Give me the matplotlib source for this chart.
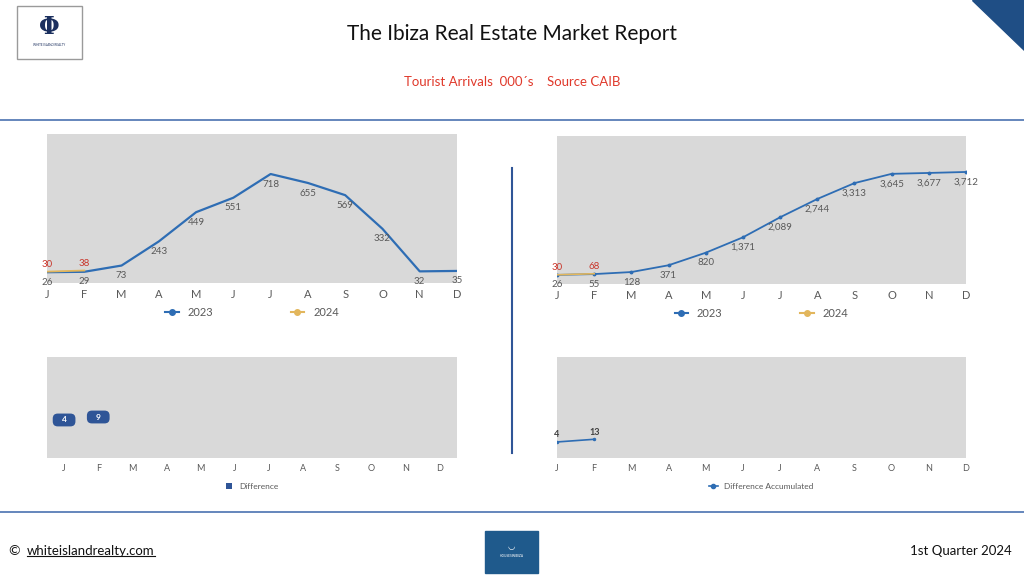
import numpy as np
import matplotlib.pyplot as plt
from matplotlib.patches import Rectangle, Polygon
from matplotlib.lines import Line2D

plt.rcParams['font.family'] = ['Lato', 'DejaVu Sans']

# data (thousands of tourist arrivals, source CAIB)
months = ['J', 'F', 'M', 'A', 'M', 'J', 'J', 'A', 'S', 'O', 'N', 'D']
arrivals_2023 = [26, 29, 73, 243, 449, 551, 718, 655, 569, 332, 32, 35]
arrivals_2024 = [30, 38]
cumul_2023 = [26, 55, 128, 371, 820, 1371, 2089, 2744, 3313, 3645, 3677, 3712]
cumul_2024 = [30, 68]
difference = [4, 9]
diff_accum = [4, 13]

W, H = 1024, 576
BG_GRAY = '#d9d9d9'
BLUE = '#2e6db4'
DARKBLUE = '#2f5597'
GOLD = '#e2b65c'
RED = '#c9372c'
TXT = '#595959'

fig = plt.figure(figsize=(W / 100, H / 100), dpi=100)


def px_axes(x0, y0, x1, y1):
    return fig.add_axes([x0 / W, 1 - y1 / H, (x1 - x0) / W, (y1 - y0) / H])


def style(ax, size):
    ax.set_facecolor(BG_GRAY)
    for s in ax.spines.values():
        s.set_visible(False)
    ax.set_yticks([])
    ax.tick_params(axis='x', length=0, colors=TXT, labelsize=size, pad=4)


# page decoration layer
bg = px_axes(0, 0, W, H)
bg.set_xlim(0, W)
bg.set_ylim(H, 0)
bg.axis('off')
bg.add_patch(Rectangle((17, 6), 65, 53, fill=False, ec='#9a9a9a', lw=1))
bg.text(49.5, 27, 'Φ', color='#1b2f5e', fontsize=17, ha='center', va='center',
        family='DejaVu Serif', fontweight='bold')
bg.text(49.5, 45, 'WHITE ISLAND REALTY', color='#1b2f5e', fontsize=2.2,
        ha='center', va='center')
bg.add_patch(Polygon([(972, 0), (1024, 0), (1024, 50)], color='#1f4e85'))
bg.text(512, 34, 'The Ibiza Real Estate Market Report', fontsize=15,
        ha='center', va='center', color='#111111')
bg.text(512, 82, 'Tourist Arrivals  000´s    Source CAIB', fontsize=9.5,
        ha='center', va='center', color='#e0392b')
bg.plot([0, W], [120, 120], color='#4a72b0', lw=1.2)
bg.plot([512, 512], [168, 453], color=DARKBLUE, lw=1.5)
bg.plot([0, W], [512, 512], color='#4a72b0', lw=1.2)
bg.text(8, 551, '©', fontsize=10, va='center', color='#111111')
url = bg.text(27, 551, 'whiteislandrealty.com', fontsize=9.5, va='center',
              color='#111111')
bg.text(1012, 551, '1st Quarter 2024', fontsize=9.5, va='center', ha='right',
        color='#111111')
bg.add_patch(Rectangle((485, 531), 53, 42, color='#1f5a8c'))
bg.text(511.5, 547, '◡', fontsize=6, ha='center', va='center', color='white')
bg.text(511.5, 556, 'HOUSESINIBIZA', fontsize=2.3, ha='center', va='center',
        color='white')

x = np.arange(len(months))

# chart 1: monthly arrivals
ax1 = px_axes(47, 134, 457, 283)
style(ax1, 8)
ax1.plot(x, arrivals_2023, color=BLUE, lw=1.6)
x24 = np.arange(len(arrivals_2024))
ax1.plot(x24, arrivals_2024, color=GOLD, lw=1.3)
for i, v in enumerate(arrivals_2023):
    ax1.annotate(str(v), (i, v), xytext=(0, -4), textcoords='offset points',
                 ha='center', va='top', fontsize=7, color=TXT,
                 annotation_clip=False)
for i, v in enumerate(arrivals_2024):
    ax1.annotate(str(v), (i, v), xytext=(0, 2), textcoords='offset points',
                 ha='center', va='bottom', fontsize=7, color=RED,
                 annotation_clip=False)
ax1.set_xlim(0, 11)
ax1.set_ylim(-50, 1000)
ax1.set_xticks(x, months)

# chart 2: accumulated arrivals
ax2 = px_axes(557, 136, 966, 284)
style(ax2, 8)
ax2.plot(x, cumul_2023, color=BLUE, lw=1.3, marker='o', ms=1.8)
ax2.plot(x24, cumul_2024, color=GOLD, lw=1.2)
for i, v in enumerate(cumul_2023):
    ax2.annotate(f'{v:,}', (i, v), xytext=(0, -4), textcoords='offset points',
                 ha='center', va='top', fontsize=7, color=TXT,
                 annotation_clip=False)
for i, v in enumerate(cumul_2024):
    ax2.annotate(str(v), (i, v), xytext=(0, 2), textcoords='offset points',
                 ha='center', va='bottom', fontsize=7, color=RED,
                 annotation_clip=False)
ax2.set_xlim(0, 11)
ax2.set_ylim(-300, 5000)
ax2.set_xticks(x, months)

for ax in (ax1, ax2):
    handles = [Line2D([], [], color=BLUE, marker='o', ms=4, lw=1.5),
               Line2D([], [], color=GOLD, marker='o', ms=4, lw=1.5)]
    ax.legend(handles, ['2023', '2024'], loc='upper center', ncol=2,
              bbox_to_anchor=(0.5, -0.095), frameon=False, fontsize=8,
              handlelength=1.2, columnspacing=7, labelcolor=TXT)

# chart 3: monthly difference
ax3 = px_axes(47, 357, 457, 458)
style(ax3, 6.5)
xd = np.arange(len(difference))
ax3.bar(xd, difference, width=0.3, color=DARKBLUE, label='Difference')
for i, v in enumerate(difference):
    ax3.text(i, v, f'   {v}   ', ha='center', va='center', fontsize=6,
             color='white', fontweight='bold',
             bbox=dict(boxstyle='round,pad=0.35,rounding_size=0.6',
                       fc=DARKBLUE, ec='none'))
ax3.set_xlim(-0.5, 11.5)
ax3.set_ylim(-60, 110)
ax3.set_xticks(x, months)
ax3.legend(loc='upper center', bbox_to_anchor=(0.5, -0.17), frameon=False,
           fontsize=6, handlelength=0.8, handleheight=0.8, labelcolor=TXT)

# chart 4: accumulated difference
ax4 = px_axes(557, 357, 966, 458)
style(ax4, 6.5)
ax4.plot(xd, diff_accum, color=BLUE, lw=1.2, marker='o', ms=1.5,
         label='Difference Accumulated')
for i, v in enumerate(diff_accum):
    ax4.annotate(str(v), (i, v), xytext=(0, 2), textcoords='offset points',
                 ha='center', va='bottom', fontsize=6.5, color='#404040',
                 fontweight='bold', annotation_clip=False)
ax4.set_xlim(0, 11)
ax4.set_ylim(-50, 290)
ax4.set_xticks(x, months)
ax4.legend(loc='upper center', bbox_to_anchor=(0.5, -0.17), frameon=False,
           fontsize=6, handlelength=1.0, labelcolor=TXT, markerscale=2)

# underline for the web address
fig.canvas.draw()
bb = url.get_window_extent().transformed(bg.transData.inverted())
bg.plot([bb.x0, bb.x1], [bb.y0 - 1, bb.y0 - 1], color='#111111', lw=0.8)

fig.savefig('out.png', dpi=100)
